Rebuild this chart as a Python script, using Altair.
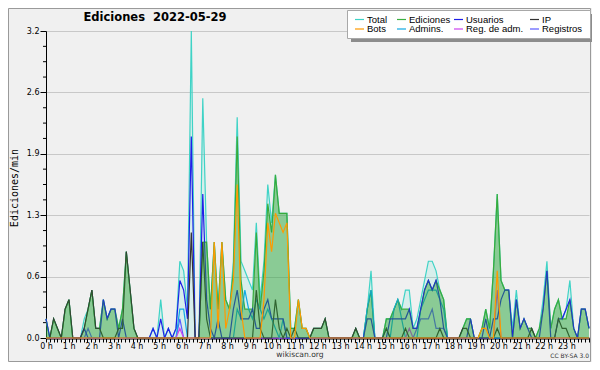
import altair as alt
import pandas as pd

# ---- data (edits per minute, 10-minute bins, 2022-05-29) ----
step_min = 10
n_points = 143
minutes = [i * step_min for i in range(n_points)]

total = [
    0.2, 0, 0.2, 0.1, 0, 0.3, 0.4, 0, 0, 0, 0.2, 0.3,
    0.5, 0.1, 0.1, 0.4, 0.2, 0.3, 0.3, 0.1, 0.3, 0.9, 0.5, 0.1,
    0, 0, 0, 0, 0.1, 0, 0.4, 0, 0.1, 0, 0.1, 0.8,
    0.7, 0.3, 3.2, 0, 0, 2.5, 1.0, 0.3, 1.0, 0.3, 1.0, 0.4,
    0.3, 0.8, 2.3, 0.8, 0.7, 0.6, 0.5, 1.2, 0.4, 0.8, 1.6, 1.2,
    1.7, 1.3, 1.3, 1.3, 0.1, 0.1, 0.4, 0.1, 0.1, 0, 0.1, 0.1,
    0.1, 0.2, 0, 0, 0, 0, 0, 0, 0, 0.1, 0, 0,
    0.3, 0.7, 0, 0, 0, 0.2, 0.2, 0.3, 0.4, 0.3, 0.5, 0.5,
    0.1, 0.2, 0.4, 0.6, 0.8, 0.8, 0.7, 0.5, 0.4, 0, 0, 0,
    0, 0.1, 0.2, 0.2, 0, 0, 0.1, 0.3, 0.1, 0.7, 1.5, 0.6,
    0.5, 0.5, 0.1, 0.5, 0.1, 0.2, 0.1, 0.1, 0, 0.1, 0.4, 0.8,
    0.1, 0.3, 0.4, 0.2, 0.3, 0.6, 0.1, 0, 0.3, 0.3, 0.1,
]
ediciones = [
    0.2, 0, 0.2, 0.1, 0, 0.3, 0.4, 0, 0, 0, 0.1, 0.3,
    0.5, 0.1, 0.1, 0.4, 0.2, 0.3, 0.3, 0.1, 0.3, 0.9, 0.5, 0.1,
    0, 0, 0, 0, 0, 0, 0, 0, 0, 0, 0, 0,
    0, 0, 0, 0, 0, 1.0, 1.0, 0.3, 1.0, 0.3, 1.0, 0.4,
    0.3, 0.7, 2.1, 0.6, 0.3, 0.3, 0.3, 1.1, 0.3, 0.7, 1.4, 1.1,
    1.7, 1.3, 1.3, 1.3, 0.1, 0.1, 0.4, 0.1, 0.1, 0, 0.1, 0.1,
    0.1, 0.2, 0, 0, 0, 0, 0, 0, 0, 0.1, 0, 0,
    0.3, 0.5, 0, 0, 0, 0.2, 0.2, 0.3, 0.4, 0.3, 0.3, 0.3,
    0.1, 0.1, 0.3, 0.5, 0.6, 0.5, 0.6, 0.5, 0.4, 0, 0, 0,
    0, 0.1, 0.2, 0.2, 0, 0, 0.1, 0.3, 0.1, 0.7, 1.5, 0.6,
    0.5, 0.5, 0, 0.4, 0.1, 0.2, 0.1, 0.1, 0, 0.1, 0.3, 0.7,
    0.1, 0.3, 0.4, 0.2, 0.2, 0.4, 0.1, 0, 0.3, 0.3, 0.1,
]
usuarios = [
    0.2, 0, 0, 0, 0, 0, 0, 0, 0, 0, 0.1, 0,
    0, 0, 0, 0.4, 0.2, 0.3, 0.3, 0, 0.2, 0, 0, 0,
    0, 0, 0, 0, 0.1, 0, 0.2, 0, 0.1, 0, 0.1, 0.6,
    0.5, 0.2, 2.1, 0, 0, 1.5, 0.4, 0.1, 0, 0.2, 0, 0,
    0, 0.3, 0.5, 0.2, 0.2, 0.2, 0.3, 0.1, 0.1, 0.3, 0.4, 0.2,
    0.2, 0.2, 0.2, 0, 0, 0, 0, 0, 0, 0, 0, 0,
    0, 0, 0, 0, 0, 0, 0, 0, 0, 0, 0, 0,
    0.2, 0.2, 0, 0, 0, 0, 0.2, 0.2, 0.2, 0.2, 0.2, 0.3,
    0.1, 0.1, 0.3, 0.5, 0.6, 0.5, 0.6, 0.4, 0.1, 0, 0, 0,
    0, 0, 0, 0.2, 0, 0, 0, 0.2, 0, 0.2, 0.2, 0.4,
    0.5, 0.5, 0, 0.4, 0.1, 0.2, 0.1, 0, 0, 0, 0.3, 0.7,
    0, 0, 0.2, 0.2, 0.3, 0.4, 0.1, 0, 0.3, 0.3, 0.1,
]
ip = [
    0, 0, 0.2, 0.1, 0, 0.3, 0.4, 0, 0, 0, 0.1, 0.3,
    0.5, 0.1, 0.1, 0, 0, 0, 0, 0.1, 0.1, 0.9, 0.5, 0.1,
    0, 0, 0, 0, 0, 0, 0, 0, 0, 0, 0, 0,
    0, 0, 1.1, 0, 0, 1.0, 0.2, 0, 0, 0, 0, 0,
    0, 0, 0, 0, 0, 0, 0, 0.5, 0.1, 0, 0, 0,
    0.4, 0.1, 0, 0.1, 0, 0.1, 0, 0, 0, 0, 0.1, 0.1,
    0.1, 0.2, 0, 0, 0, 0, 0, 0, 0, 0.1, 0, 0,
    0, 0, 0, 0, 0, 0.1, 0, 0, 0, 0, 0.1, 0,
    0, 0, 0, 0, 0, 0, 0, 0.1, 0, 0, 0, 0,
    0, 0.1, 0.1, 0, 0, 0, 0, 0, 0, 0, 0.1, 0,
    0, 0, 0, 0, 0, 0, 0, 0.1, 0, 0, 0, 0,
    0, 0, 0.2, 0.1, 0.1, 0, 0, 0, 0, 0, 0,
]
bots = [
    0, 0, 0, 0, 0, 0, 0, 0, 0, 0, 0, 0,
    0, 0, 0, 0, 0, 0, 0, 0, 0, 0, 0, 0,
    0, 0, 0, 0, 0, 0, 0, 0, 0, 0, 0, 0,
    0, 0, 0, 0, 0, 0, 0, 0, 1.0, 0.1, 1.0, 0.1,
    0.3, 0.6, 1.6, 0.3, 0, 0, 0, 0, 0, 0.4, 1.2, 0.9,
    1.3, 1.2, 1.1, 1.2, 0, 0, 0.4, 0.1, 0.1, 0, 0, 0,
    0, 0, 0, 0, 0, 0, 0, 0, 0, 0, 0, 0,
    0, 0, 0, 0, 0, 0, 0, 0, 0, 0, 0, 0,
    0, 0, 0, 0, 0, 0, 0, 0, 0, 0, 0, 0,
    0, 0, 0, 0, 0, 0, 0.1, 0.1, 0, 0, 0.7, 0,
    0, 0, 0, 0, 0, 0, 0, 0, 0, 0, 0, 0,
    0, 0, 0, 0, 0, 0, 0, 0, 0, 0, 0,
]
admins = [
    0, 0, 0, 0, 0, 0, 0, 0, 0, 0, 0, 0,
    0, 0, 0, 0, 0, 0, 0, 0, 0, 0, 0, 0,
    0, 0, 0, 0, 0, 0, 0, 0, 0, 0, 0, 0.3,
    0.3, 0, 0, 0, 0, 0, 0, 0, 0, 0, 0, 0,
    0, 0, 0.3, 0.2, 0.5, 0.3, 0.2, 0.4, 0.3, 0.2, 0.3, 0.2,
    0.1, 0, 0.2, 0, 0, 0, 0, 0, 0, 0, 0, 0,
    0, 0, 0, 0, 0, 0, 0, 0, 0, 0, 0, 0,
    0.3, 0.5, 0, 0, 0, 0.1, 0, 0.3, 0.4, 0.2, 0, 0,
    0, 0, 0.3, 0.4, 0.5, 0.5, 0.5, 0.4, 0.3, 0, 0, 0,
    0, 0, 0, 0, 0, 0, 0, 0, 0, 0, 0, 0,
    0, 0, 0, 0, 0, 0, 0, 0, 0, 0, 0, 0,
    0, 0, 0, 0, 0, 0, 0, 0, 0, 0, 0,
]
reg_adm = [
    0, 0, 0, 0, 0, 0, 0, 0, 0, 0, 0, 0,
    0, 0, 0, 0, 0, 0, 0, 0, 0, 0, 0, 0,
    0, 0, 0, 0, 0, 0, 0, 0, 0, 0, 0, 0.1,
    0, 0, 0, 0, 0, 0, 0, 0, 0, 0, 0, 0,
    0, 0, 0, 0, 0, 0, 0, 0, 0, 0, 0, 0,
    0, 0, 0, 0, 0, 0, 0, 0, 0, 0, 0, 0,
    0, 0, 0, 0, 0, 0, 0, 0, 0, 0, 0, 0,
    0, 0, 0, 0, 0, 0, 0, 0, 0, 0, 0, 0.1,
    0, 0, 0, 0, 0, 0, 0, 0, 0, 0, 0, 0,
    0, 0, 0, 0, 0, 0, 0, 0, 0, 0, 0.5, 0,
    0, 0, 0, 0, 0, 0, 0, 0, 0, 0, 0, 0,
    0, 0, 0, 0, 0, 0, 0, 0, 0, 0, 0,
]
registros = [
    0, 0, 0, 0, 0, 0, 0, 0, 0, 0, 0, 0.1,
    0, 0, 0, 0, 0, 0, 0, 0, 0, 0, 0, 0,
    0, 0, 0, 0, 0, 0, 0, 0, 0, 0, 0, 0.2,
    0, 0, 0, 0, 0, 0, 0, 0, 0, 0, 0, 0,
    0, 0, 0, 0, 0, 0, 0, 0, 0, 0, 0, 0,
    0, 0, 0, 0, 0, 0, 0, 0, 0, 0, 0, 0,
    0, 0, 0, 0, 0, 0, 0, 0, 0, 0, 0, 0,
    0, 0, 0, 0, 0, 0, 0, 0, 0, 0, 0, 0,
    0, 0.1, 0.2, 0.2, 0.2, 0.3, 0.1, 0.1, 0.1, 0, 0, 0,
    0, 0, 0, 0, 0, 0, 0, 0, 0, 0, 0, 0,
    0, 0, 0, 0, 0, 0, 0, 0, 0, 0, 0, 0,
    0, 0, 0, 0, 0, 0, 0, 0, 0, 0, 0,
]

series_names = ["Total", "Ediciones", "Usuarios", "IP", "Bots", "Admins.", "Reg. de adm.", "Registros"]
series_colors = ["#3fd3c6", "#3cb043", "#1f1fe8", "#333333", "#ff9a00", "#12a9e3", "#cc44ee", "#5a5aff"]
line_order = ["Total", "Ediciones", "Registros", "Admins.", "Reg. de adm.", "Usuarios", "IP"]

y_major = [0, 0.64, 1.28, 1.92, 2.56, 3.2]
y_minor = [0.16, 0.32, 0.48, 0.8, 0.96, 1.12, 1.44, 1.6, 1.76, 2.08, 2.24, 2.4, 2.72, 2.88, 3.04]
x_ticks = list(range(0, 1441, 10))

title_text = "Ediciones\u00a0\u00a02022-05-29"
y_title = "Ediciones/min"
site_text = "wikiscan.org"
license_text = "CC BY-SA 3.0"

# ---- legend layout (style only: pixel offsets from the plot's top-left) ----
legend_col_x = [309, 351, 408, 484]
legend_row_y = [-11.5, -2]
legend_box = (301, -21, 544, 7)

# ---- tables ----
wide = pd.DataFrame({
    "min": minutes, "Total": total, "Ediciones": ediciones, "Usuarios": usuarios,
    "IP": ip, "Bots": bots, "Admins.": admins, "Reg. de adm.": reg_adm, "Registros": registros,
})
long = wide.melt("min", var_name="serie", value_name="v")
long["ord"] = long["serie"].map({s: k for k, s in enumerate(line_order + ["Bots"])})
long = long.sort_values(["ord", "min"]).reset_index(drop=True)
lines_df = long[long["serie"].isin(line_order)]
bots_df = long[long["serie"] == "Bots"]

leg_df = pd.DataFrame({
    "serie": series_names,
    "lx": [legend_col_x[k % 4] for k in range(len(series_names))],
    "ly": [legend_row_y[k // 4] for k in range(len(series_names))],
})
leg_df["lx2"] = leg_df["lx"] + 9
leg_df["tx"] = leg_df["lx"] + 12

W, H = 543, 307
xs = alt.Scale(domain=[0, 1420], nice=False, zero=False)
ys = alt.Scale(domain=[0, 3.2], nice=False, zero=True)
yax = alt.Axis(values=y_major, format=".1f", title=None, labelFont="DejaVu Sans", labelFontSize=8,
               labelColor="black", tickColor="black", tickSize=6, domainColor="black",
               grid=True, gridColor="#c8c8c8", labelPadding=1)
xax = alt.Axis(values=x_ticks, title=None, orient="bottom",
               labelExpr="datum.value % 60 == 0 && datum.value < 1440 ? (datum.value / 60) + ' h' : ''",
               labelFont="DejaVu Sans", labelFontSize=8, labelColor="black", tickColor="black",
               tickSize=4, domainColor="black", domainWidth=2, grid=False, labelPadding=0,
               labelOverlap=False, labelFlush=False, labelBound=False)

cscale = alt.Scale(domain=series_names, range=series_colors)

one = pd.DataFrame({"a": [0]})
bx0, by0, bx1, by1 = legend_box

frame = alt.Chart(one).mark_rect(filled=False, stroke="#9a9a9a", strokeWidth=1).encode(
    x=alt.value(-37.5), x2=alt.value(544.5), y=alt.value(-22.5), y2=alt.value(330.5))

area_total = alt.Chart(wide).mark_area(color="#40e0d0", opacity=0.14).encode(
    x=alt.X("min:Q", scale=xs, axis=None), y=alt.Y("Total:Q", scale=ys, axis=yax))

minor = alt.Chart(pd.DataFrame({"v": y_minor})).mark_rule(color="black", strokeWidth=1).encode(
    y=alt.Y("v:Q", scale=ys, axis=yax), x=alt.value(-3), x2=alt.value(0))

lines = alt.Chart(lines_df).mark_line(strokeWidth=1.2).encode(
    x=alt.X("min:Q", scale=xs, axis=None), y=alt.Y("v:Q", scale=ys, axis=yax),
    color=alt.Color("serie:N", scale=cscale, legend=None), detail="ord:O")

area_ed = alt.Chart(wide).mark_area(color="#2ca02c", opacity=0.45).encode(
    x=alt.X("min:Q", scale=xs, axis=None), y=alt.Y("Ediciones:Q", scale=ys, axis=yax))

bots_line = alt.Chart(bots_df).mark_line(strokeWidth=1.2).encode(
    x=alt.X("min:Q", scale=xs, axis=None), y=alt.Y("v:Q", scale=ys, axis=yax),
    color=alt.Color("serie:N", scale=cscale, legend=None))

xaxis_layer = alt.Chart(pd.DataFrame({"m": x_ticks})).mark_point(opacity=0).encode(
    x=alt.X("m:Q", scale=alt.Scale(domain=[0, 1440], nice=False, zero=False), axis=xax))

# legend: shadow, box, symbols, labels
leg_shadow = alt.Chart(one).mark_rect(color="#8c8c8c").encode(
    x=alt.value(bx0 + 4), x2=alt.value(bx1 + 4), y=alt.value(by0 + 4), y2=alt.value(by1 + 4))
leg_boxm = alt.Chart(one).mark_rect(fill="white", stroke="#a8a8a8", strokeWidth=1).encode(
    x=alt.value(bx0 + 0.5), x2=alt.value(bx1 + 0.5), y=alt.value(by0 + 0.5), y2=alt.value(by1 + 0.5))
leg_sym = alt.Chart(leg_df).mark_rule(strokeWidth=1.2).encode(
    x=alt.X("lx:Q", scale=None), x2="lx2:Q", y=alt.Y("ly:Q", scale=None),
    color=alt.Color("serie:N", scale=cscale, legend=None))
leg_txt = alt.Chart(leg_df).mark_text(align="left", baseline="middle", font="Liberation Sans",
                                       fontSize=9.5, color="black").encode(
    x=alt.X("tx:Q", scale=None), y=alt.Y("ly:Q", scale=None), text="serie:N")

def label(txt, x, y, **kw):
    return alt.Chart(pd.DataFrame({"t": [txt]})).mark_text(**kw).encode(
        x=alt.value(x), y=alt.value(y), text="t:N")

title_l = label(title_text, 109, -10, font="DejaVu Sans", fontSize=11.5, fontWeight="bold",
                color="black", align="center", baseline="alphabetic")
ytitle_l = label(y_title, -31, 157, font="DejaVu Sans Mono", fontSize=10, color="black",
                 angle=270, align="center", baseline="middle")
site_l = label(site_text, 254, 324, font="DejaVu Sans", fontSize=7.6, color="#333333",
               align="center", baseline="middle")
lic_l = label(license_text, 543, 325, font="DejaVu Sans", fontSize=6, color="#333333",
              align="right", baseline="middle")

chart = alt.layer(
    frame, area_total, minor, lines, area_ed, bots_line, xaxis_layer,
    leg_shadow, leg_boxm, leg_sym, leg_txt,
    title_l, ytitle_l, site_l, lic_l,
).resolve_scale(x="independent").properties(
    width=W, height=H,
    padding={"left": 38, "top": 23, "right": 3, "bottom": 24},
    autosize=alt.AutoSizeParams(type="none"),
    background="#f0f0f0",
).configure_view(strokeWidth=0, fill="#f0f0f0")

chart.save("out.html", embed_options={"renderer": "svg", "actions": False})
